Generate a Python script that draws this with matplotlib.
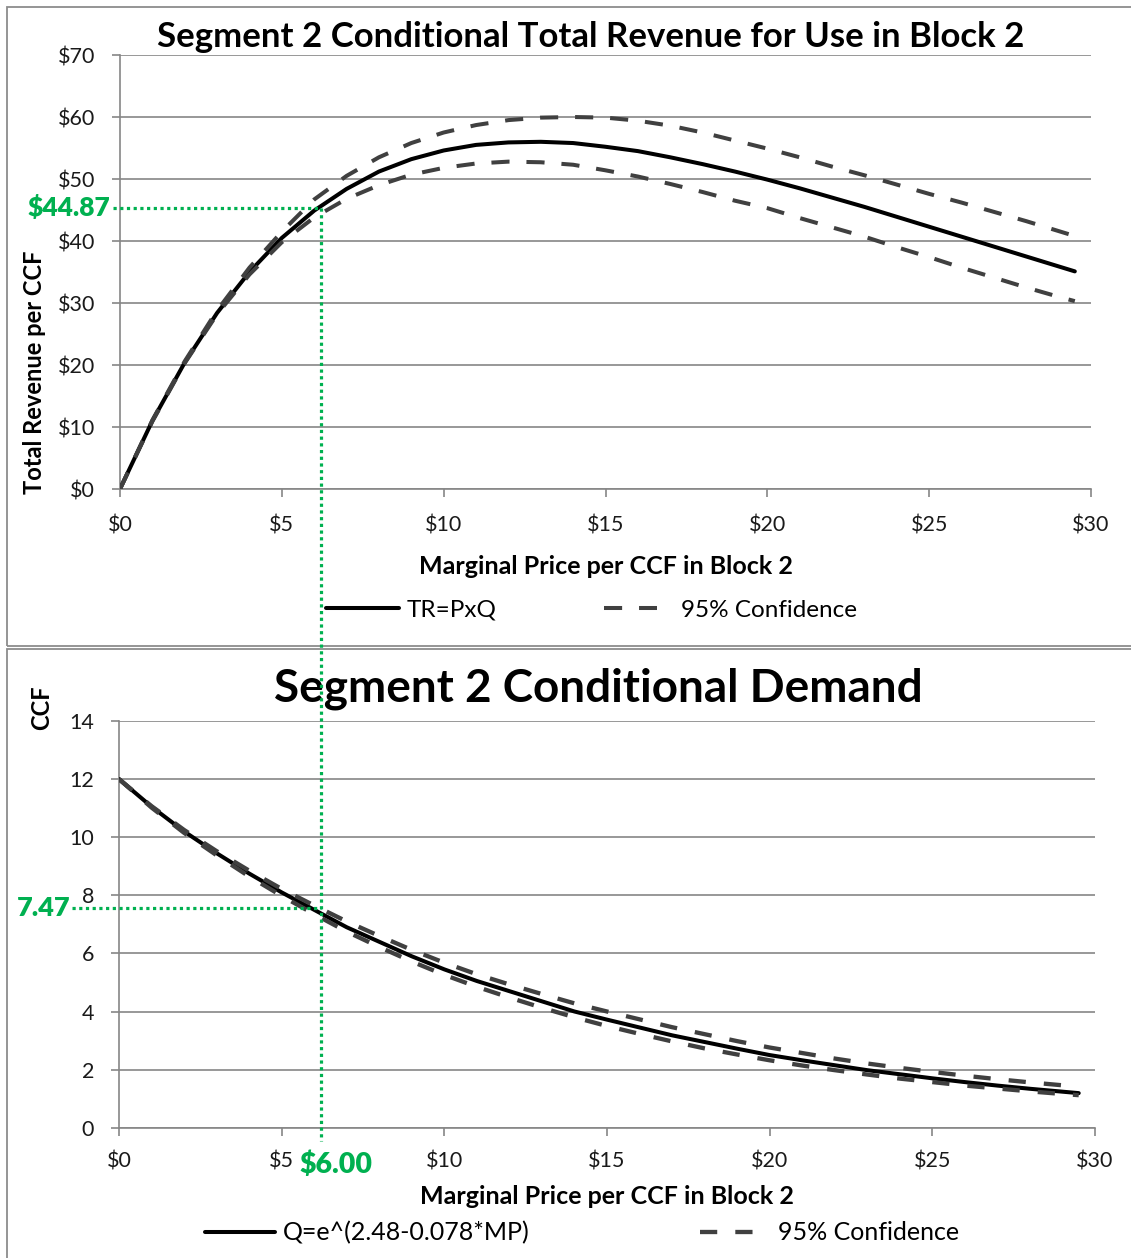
import matplotlib
matplotlib.use("Agg")
import matplotlib.pyplot as plt
from matplotlib.lines import Line2D
from matplotlib.patches import Rectangle
from matplotlib.ticker import FuncFormatter, MultipleLocator

plt.rcParams['font.family'] = ['Lato', 'DejaVu Sans']

# ---------------- data ----------------
price = [0, 1, 2, 3, 4, 5, 6, 7, 8, 9, 10, 11, 12, 13, 14, 15, 16, 17, 18, 19,
         20, 21, 22, 23, 24, 25, 26, 27, 28, 29, 29.5]

tr_center = [0, 11.0, 20.4, 28.4, 35.0, 40.5, 44.9, 48.4, 51.2, 53.2, 54.6, 55.5,
             55.9, 56.0, 55.8, 55.2, 54.5, 53.5, 52.4, 51.2, 49.9, 48.5, 47.0,
             45.5, 43.9, 42.3, 40.7, 39.1, 37.5, 35.9, 35.1]
tr_upper = [0, 11.1, 20.6, 28.8, 35.7, 41.5, 46.7, 50.5, 53.5, 55.8, 57.5, 58.7,
            59.5, 59.9, 60.0, 59.9, 59.4, 58.6, 57.5, 56.2, 54.9, 53.5, 52.0,
            50.6, 49.1, 47.6, 46.2, 44.7, 43.2, 41.6, 40.8]
tr_lower = [0, 10.9, 20.3, 28.2, 34.6, 39.8, 43.8, 46.8, 49.0, 50.7, 51.8, 52.5,
            52.8, 52.7, 52.3, 51.4, 50.4, 49.2, 47.9, 46.5, 45.3, 43.7, 42.2,
            40.7, 39.0, 37.4, 35.7, 34.1, 32.5, 31.0, 30.3]

q_center = [12.0, 11.05, 10.2, 9.45, 8.75, 8.1, 7.5, 6.9, 6.4, 5.9, 5.45, 5.05,
            4.7, 4.35, 4.0, 3.72, 3.45, 3.18, 2.95, 2.72, 2.5, 2.32, 2.15, 1.98,
            1.84, 1.7, 1.57, 1.45, 1.34, 1.24, 1.19]
q_upper = [12.0, 11.07, 10.25, 9.52, 8.85, 8.22, 7.65, 7.1, 6.6, 6.12, 5.68, 5.28,
           4.93, 4.6, 4.28, 4.0, 3.73, 3.46, 3.22, 2.98, 2.76, 2.57, 2.38, 2.21,
           2.06, 1.92, 1.79, 1.67, 1.56, 1.46, 1.42]
q_lower = [12.0, 11.02, 10.15, 9.38, 8.65, 7.98, 7.35, 6.75, 6.22, 5.72, 5.26, 4.85,
           4.48, 4.13, 3.8, 3.5, 3.23, 2.97, 2.73, 2.52, 2.32, 2.14, 1.98, 1.83,
           1.69, 1.57, 1.45, 1.35, 1.25, 1.16, 1.12]

marker_price = 6.0
marker_tr = 44.87
marker_q = 7.47

top_title = "Segment 2 Conditional Total Revenue for Use in Block 2"
bottom_title = "Segment 2 Conditional Demand"
x_label = "Marginal Price per CCF in Block 2"
top_ylabel = "Total Revenue per CCF"
bottom_ylabel = "CCF"
top_legend = ["TR=PxQ", "95% Confidence"]
bottom_legend = ["Q=e^(2.48-0.078*MP)", "95% Confidence"]

# ---------------- figure ----------------
W, H = 1131, 1258
fig = plt.figure(figsize=(W / 100, H / 100), dpi=100)

def fx(px):
    return px / W

def fy(py):
    return 1 - py / H

GRID = '#868686'
GREEN = '#00B050'
DASH = '#404040'

# panel borders
fig.add_artist(Rectangle((fx(7), fy(646)), 1.2, fy(7) - fy(646), transform=fig.transFigure,
                         fill=False, edgecolor='#8c8c8c', lw=1.3))
fig.add_artist(Rectangle((fx(7), fy(1300)), 1.2, fy(649) - fy(1300), transform=fig.transFigure,
                         fill=False, edgecolor='#8c8c8c', lw=1.3))

ax1 = fig.add_axes([fx(120), fy(489), fx(1091) - fx(120), fy(55) - fy(489)])
ax2 = fig.add_axes([fx(119), fy(1127.7), fx(1095) - fx(119), fy(721) - fy(1127.7)])

for ax in (ax1, ax2):
    ax.set_facecolor('none')
    for s in ('top', 'right'):
        ax.spines[s].set_visible(False)
    for s in ('left', 'bottom'):
        ax.spines[s].set_color(GRID)
        ax.spines[s].set_linewidth(1.2)
    ax.tick_params(axis='both', direction='out', length=6, width=1.2, color=GRID,
                   labelsize=15.5, labelcolor='#1a1a1a')
    ax.tick_params(axis='y', pad=12)
    ax.grid(axis='y', color=GRID, lw=1.2)
    ax.set_axisbelow(True)
    ax.set_xlim(0, 30)
    ax.xaxis.set_major_locator(MultipleLocator(5))
    ax.xaxis.set_major_formatter(FuncFormatter(lambda v, p: f"${v:.0f}"))

ax1.tick_params(axis='x', pad=13)
ax2.tick_params(axis='x', pad=11)

# top chart
ax1.set_ylim(0, 70)
ax1.yaxis.set_major_locator(MultipleLocator(10))
ax1.yaxis.set_major_formatter(FuncFormatter(lambda v, p: f"${v:.0f}"))
l1, = ax1.plot(price, tr_center, color='black', lw=2.9, zorder=3,
               solid_capstyle='round', label=top_legend[0])
l2, = ax1.plot(price, tr_upper, color=DASH, lw=2.9, ls=(0, (4.5, 4.2)), zorder=4,
               label=top_legend[1])
ax1.plot(price, tr_lower, color=DASH, lw=2.9, ls=(0, (4.5, 4.2)), zorder=4)

ax1.set_xlabel(x_label, fontsize=18, fontweight='bold')
ax1.xaxis.set_label_coords(0.5, (489 - 566) / 434)
ax1.xaxis.label.set_va('center')
ax1.set_ylabel(top_ylabel, fontsize=17, fontweight='bold')
ax1.yaxis.set_label_coords((35 - 120) / 971, (489 - 372) / 434)
ax1.yaxis.label.set_va('center')
fig.text(fx(591), fy(37), top_title, ha='center', va='center', fontsize=25,
         fontweight='bold')

# bottom chart
ax2.set_ylim(0, 14)
ax2.yaxis.set_major_locator(MultipleLocator(2))
ax2.yaxis.set_major_formatter(FuncFormatter(lambda v, p: f"{v:.0f}"))
m1, = ax2.plot(price, q_center, color='black', lw=2.9, zorder=3,
               solid_capstyle='round', label=bottom_legend[0])
m2, = ax2.plot(price, q_upper, color=DASH, lw=3.1, ls=(0, (4.0, 4.2)), zorder=4,
               label=bottom_legend[1])
ax2.plot(price, q_lower, color=DASH, lw=3.1, ls=(0, (4.0, 4.2)), zorder=4)

ax2.set_xlabel(x_label, fontsize=18, fontweight='bold')
ax2.xaxis.set_label_coords(0.5, (1127.7 - 1197) / 406.7)
ax2.xaxis.label.set_va('center')
ax2.set_ylabel(bottom_ylabel, fontsize=17, fontweight='bold')
ax2.yaxis.set_label_coords((42 - 119) / 976, (1127.7 - 708) / 406.7)
ax2.yaxis.label.set_va('center')
fig.text(fx(598), fy(689), bottom_title, ha='center', va='center', fontsize=33,
         fontweight='bold')

# legends
def one_legend(handle, label, x_px, y_px, size, hl, pad):
    return fig.legend([handle], [label], loc='center left',
                      bbox_to_anchor=(fx(x_px), fy(y_px)), bbox_transform=fig.transFigure,
                      frameon=False, fontsize=size, handlelength=hl, handletextpad=pad,
                      borderpad=0, borderaxespad=0)

one_legend(l1, top_legend[0], 326, 610, 17.5, 3.0, 0.3)
one_legend(l2, top_legend[1], 604, 610, 17.5, 2.2, 0.95)
one_legend(m1, bottom_legend[0], 205, 1233, 18, 2.8, 0.3)
one_legend(m2, bottom_legend[1], 700, 1233, 18, 2.2, 0.9)

# green marker lines (figure level, positions derived from data)
fig.canvas.draw()
inv = fig.transFigure.inverted()
gx, gy_top = inv.transform(ax1.transData.transform((marker_price, marker_tr)))
_, gy_bot = inv.transform(ax2.transData.transform((marker_price, marker_q)))
_, gy_end = inv.transform(ax2.transData.transform((marker_price, -0.45)))
gx += 7 / W          # the original overlay sits a few pixels right of $6
gy_top += 3 / H
gy_bot += 3 / H
dot = dict(color=GREEN, lw=2.3, ls=(0, (1, 1.1)), transform=fig.transFigure, zorder=6)
fig.add_artist(Line2D([gx, gx], [gy_top, gy_end], **dot))
fig.add_artist(Line2D([fx(113), gx], [gy_top, gy_top], **dot))
fig.add_artist(Line2D([fx(72), gx], [gy_bot, gy_bot], **dot))

fig.text(fx(110), gy_top, f"${marker_tr:.2f}", ha='right', va='center', color=GREEN,
         fontsize=19, fontweight='heavy')
fig.text(fx(70), gy_bot, f"{marker_q:.2f}", ha='right', va='center', color=GREEN,
         fontsize=19.5, fontweight='heavy')
fig.text(fx(336), fy(1165), f"${marker_price:.2f}", ha='center', va='center',
         color=GREEN, fontsize=20.5, fontweight='heavy')

fig.savefig('out.png', dpi=100)
